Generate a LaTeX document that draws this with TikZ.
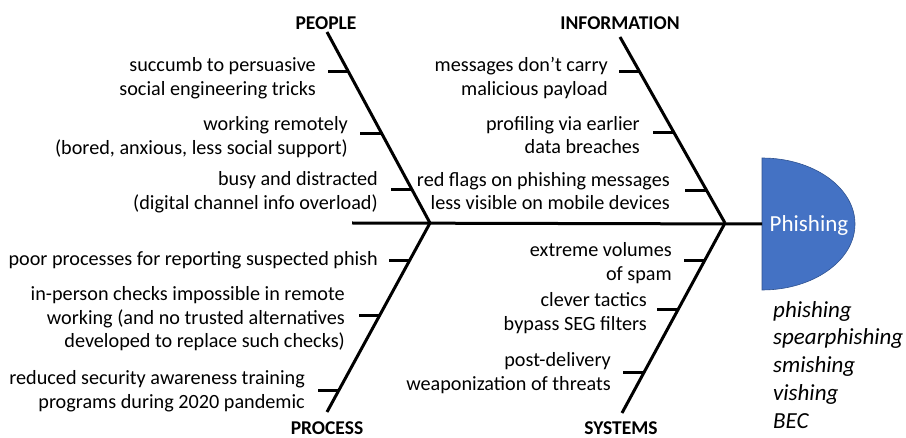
\documentclass[tikz,border=0pt]{standalone}
\usepackage{fontspec}
\setmainfont{Carlito}
\usetikzlibrary{calc}
\definecolor{headblue}{HTML}{4472C4}
\definecolor{headedge}{HTML}{2F528F}
\begin{document}
\begin{tikzpicture}[x=1pt,y=-1pt,
  bone/.style={line width=3pt},
  tickline/.style={line width=3pt},
  cause/.style={anchor=east,align=right,inner sep=0pt,font=\fontsize{20.2}{23.5}\selectfont},
  cat/.style={inner sep=0pt,anchor=base,font=\bfseries\fontsize{19.5}{22}\selectfont},
  kind/.style={anchor=north west,align=left,inner sep=0pt,font=\itshape\fontsize{23}{27.75}\selectfont},
  ]
\useasboundingbox (0,0) rectangle (906,438);
% key points
\coordinate (spineL) at (352,223);
\coordinate (J1) at (430,223);
\coordinate (J2) at (725,223);
\coordinate (headW) at (762,224);
\coordinate (pT) at (327,32);
\coordinate (iT) at (620,37);
\coordinate (prB) at (327,412);
\coordinate (sB) at (622,413);
% head
\draw[headedge, line width=0.6pt, fill=headblue] (762,158) arc[start angle=-90, end angle=90, x radius=93, y radius=66] -- cycle;
\node[text=white, inner sep=0pt, font=\fontsize{23}{26}\selectfont] (head) at (809,225) {Phishing};
% spine and bones
\draw[bone] (spineL) -- (headW);
\draw[bone] (pT) -- (J1);
\draw[bone] (iT) -- (J2);
\draw[bone] (J1) -- (prB);
\draw[bone] (J2) -- (sB);
% ticks
\coordinate (p1) at ($(pT)!0.209!(J1)$);
\coordinate (p2) at ($(pT)!0.529!(J1)$);
\coordinate (p3) at ($(pT)!0.827!(J1)$);
\coordinate (i1) at ($(iT)!0.188!(J2)$);
\coordinate (i2) at ($(iT)!0.516!(J2)$);
\coordinate (i3) at ($(iT)!0.823!(J2)$);
\coordinate (r1) at ($(J1)!0.196!(prB)$);
\coordinate (r2) at ($(J1)!0.487!(prB)$);
\coordinate (r3) at ($(J1)!0.884!(prB)$);
\coordinate (s1) at ($(J2)!0.195!(sB)$);
\coordinate (s2) at ($(J2)!0.453!(sB)$);
\coordinate (s3) at ($(J2)!0.789!(sB)$);
\foreach \c in {p1,p2,p3,i1,i2,i3,r1,r2,r3,s1,s2,s3}
  \draw[tickline] (\c) -- ++(-21,0);
% category labels
\node[cat] (people) at (326,30) {PEOPLE};
\node[cat] (info) at (620,29.5) {INFORMATION};
\node[cat] (process) at (327,434.5) {PROCESS};
\node[cat] (systems) at (621,434.5) {SYSTEMS};
% people causes
\node[cause] (c1) at (316,78) {succumb to persuasive\\social engineering tricks};
\node[cause] (c2) at (348,137) {working remotely\\(bored, anxious, less social support)};
\node[cause] (c3) at (378,192) {busy and distracted\\(digital channel info overload)};
% information causes
\node[cause] (c4) at (608,78) {messages don’t carry\\malicious payload};
\node[cause] (c5) at (640,135) {profiling via earlier\\data breaches};
\node[cause] (c6) at (670,191) {red flags on phishing messages\\less visible on mobile devices};
% process causes
\node[cause] (c7) at (378,260) {poor processes for reporting suspected phish};
\node[cause] (c8) at (345,319) {in-person checks impossible in remote\\working (and no trusted alternatives\\developed to replace such checks)};
\node[cause] (c9) at (305,391) {reduced security awareness training\\programs during 2020 pandemic};
% systems causes
\node[cause] (c10) at (672,263) {extreme volumes\\of spam};
\node[cause] (c11) at (647,313) {clever tactics\\bypass SEG filters};
\node[cause] (c12) at (611,373) {post-delivery\\weaponization of threats};
% kinds
\node[kind] (kinds) at (773,301) {phishing\\spearphishing\\smishing\\vishing\\BEC};
\end{tikzpicture}
\end{document}
